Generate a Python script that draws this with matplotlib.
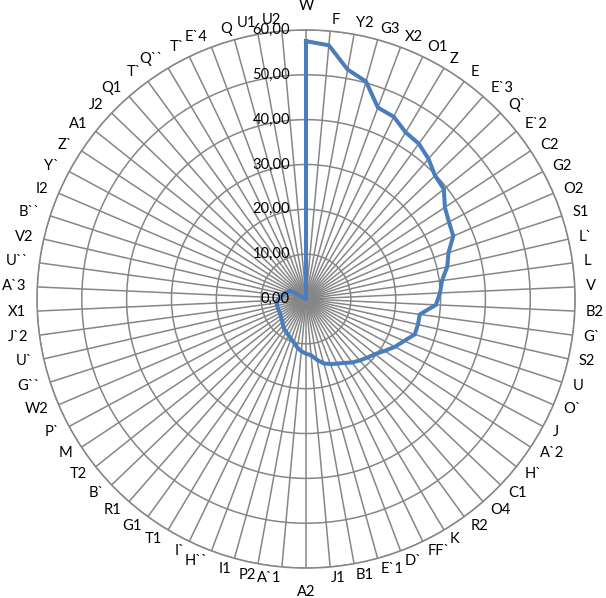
import numpy as np
import matplotlib.pyplot as plt

plt.rcParams['font.family'] = ['Lato', 'DejaVu Sans']

# Kategorien im Uhrzeigersinn, beginnend oben
categories = ["W", "F", "Y2", "G3", "X2", "O1", "Z", "E", "E`3", "Q`",
              "E`2", "C2", "G2", "O2", "S1", "L`", "L", "V", "B2", "G`",
              "S2", "U", "O`", "J", "A`2", "H`", "C1", "O4", "R2", "K",
              "FF`", "D`", "E`1", "B1", "J1", "A2", "A`1", "P2", "I1", "H``",
              "I`", "T1", "G1", "R1", "B`", "T2", "M", "P`", "W2", "G``",
              "U`", "J`2", "X1", "A`3", "U``", "V2", "B``", "I2", "Y`", "Z`",
              "A1", "J2", "Q1", "T`", "Q``", "T`", "E`4", "Q", "U1", "U2"]

values = [57.5, 56.8, 52.0, 50.3, 45.6, 45.1, 43.3, 42.8, 41.5, 39.8,
          39.3, 37.1, 36.2, 35.7, 33.4, 32.3, 30.6, 29.9, 29.0, 25.6,
          25.6, 25.5, 23.8, 22.5, 21.0, 19.7, 18.9, 18.2, 17.5, 16.6,
          16.0, 15.5, 14.9, 13.8, 12.6, 12.2, 11.7, 11.0, 10.1, 9.5,
          9.0, 8.6, 8.3, 7.8, 7.3, 7.0, 6.8, 6.6, 6.6, 6.6,
          6.6, 6.6, 6.3, 5.9, 5.4, 5.0, 4.6, 4.3, 4.1, 0.0,
          0.0, 0.0, 0.0, 0.0, 0.0, 0.0, 0.0, 0.0, 0.0, 0.0]

rings = [0, 10, 20, 30, 40, 50, 60]

grid_col = "#868686"
line_col = "#4A7EBB"
fs = 10.6

angles = np.linspace(0, 2 * np.pi, len(categories), endpoint=False)

fig = plt.figure(figsize=(6.06, 5.98), dpi=100)
ax = fig.add_axes([0.061, 0.050, 0.888, 0.900], projection="polar")
ax.set_theta_zero_location("N")
ax.set_theta_direction(-1)
ax.set_ylim(0, 60)

ax.set_xticks(angles)
ax.set_xticklabels([])
ax.set_yticks(rings[1:])
ax.set_yticklabels([])
ax.tick_params(length=0)
ax.grid(True, color=grid_col, lw=1.1)
ax.spines["polar"].set_color(grid_col)
ax.spines["polar"].set_linewidth(1.1)

# Datenreihe
ax.plot(np.append(angles, angles[0]), np.append(values, values[0]),
        color=line_col, lw=2.9, solid_joinstyle="round", zorder=5)

# Achsenbeschriftung links der senkrechten Achse
for v in rings:
    ax.annotate(f"{v:.2f}".replace(".", ","), xy=(0, v), xytext=(-16, 0),
                textcoords="offset pixels", ha="right", va="center",
                fontsize=fs, color="black", zorder=6)

# Kategoriebeschriftungen ausserhalb des Kreises (wie Excel: links/rechts ausgerichtet)
r_lab = 60 * 280 / 269
for a, c in zip(angles, categories):
    sx, sy = np.sin(a), np.cos(a)
    if abs(sx) < 1e-6:
        ha, off = "center", (0, 13 * np.sign(sy))
    else:
        ha, off = ("left" if sx > 0 else "right"), (0, 0)
    ax.annotate(c, xy=(a, r_lab), xytext=off, textcoords="offset pixels",
                ha=ha, va="center", fontsize=fs, annotation_clip=False)

fig.savefig("out.png", dpi=100, facecolor="white")
